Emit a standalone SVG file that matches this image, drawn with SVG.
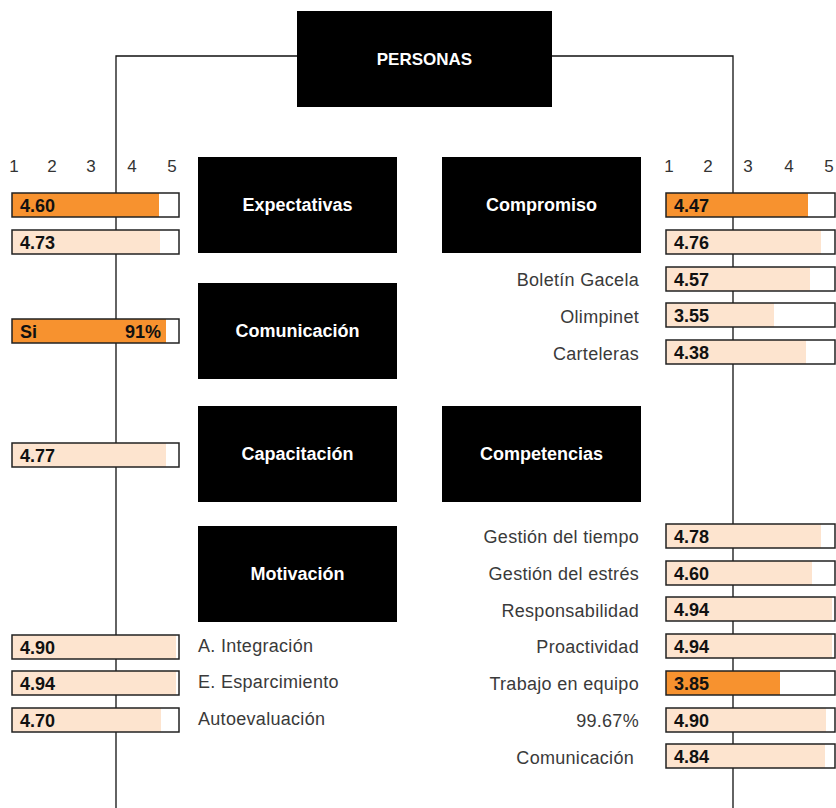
<svg xmlns="http://www.w3.org/2000/svg" width="836" height="808" viewBox="0 0 836 808">
  <style>
    .box { fill: #000; }
    .boxlabel { font-family: "Liberation Sans", Arial, sans-serif; font-weight: bold; font-size: 18px; fill: #fff; text-anchor: middle; }
    .root { font-size: 17px; }
    .axis { font-family: "Liberation Sans", Arial, sans-serif; font-size: 17px; fill: #333; text-anchor: middle; }
    .label { font-family: "Liberation Sans", Arial, sans-serif; font-size: 18px; letter-spacing: 0.3px; fill: #3a3a3a; }
    .label.r { text-anchor: end; }
    .val { font-family: "Liberation Sans", Arial, sans-serif; font-weight: bold; font-size: 18px; fill: #111; }
    .bg { fill: #fff; }
    .frame { fill: none; stroke: #222; stroke-width: 1.5; }
    .hi { fill: #f7922f; }
    .lo { fill: #fde4cf; }
    .line { fill: none; stroke: #111; stroke-width: 1.3; }
  </style>

  <!-- connectors: trunk from the root box down both sides -->
  <g id="connectors">
    <polyline class="line" points="116,808 116,56 733,56 733,808"/>
  </g>

  <!-- root node -->
  <g id="personas">
    <rect class="box" x="297" y="11" width="255" height="96"/>
    <text class="boxlabel root" x="424.5" y="65">PERSONAS</text>
  </g>

  <!-- category nodes -->
  <g id="expectativas">
    <rect class="box" x="198" y="157" width="199" height="96"/>
    <text class="boxlabel" x="297.5" y="211">Expectativas</text>
  </g>
  <g id="compromiso">
    <rect class="box" x="442" y="157" width="199" height="96"/>
    <text class="boxlabel" x="541.5" y="211">Compromiso</text>
  </g>
  <g id="comunicacion">
    <rect class="box" x="198" y="283" width="199" height="96"/>
    <text class="boxlabel" x="297.5" y="337">Comunicación</text>
  </g>
  <g id="capacitacion">
    <rect class="box" x="198" y="406" width="199" height="96"/>
    <text class="boxlabel" x="297.5" y="460">Capacitación</text>
  </g>
  <g id="competencias">
    <rect class="box" x="442" y="406" width="199" height="96"/>
    <text class="boxlabel" x="541.5" y="460">Competencias</text>
  </g>
  <g id="motivacion">
    <rect class="box" x="198" y="526" width="199" height="96"/>
    <text class="boxlabel" x="297.5" y="580">Motivación</text>
  </g>

  <!-- scale headings -->
  <g id="axis-left">
    <text class="axis" x="14" y="172">1</text>
    <text class="axis" x="52" y="172">2</text>
    <text class="axis" x="91" y="172">3</text>
    <text class="axis" x="132" y="172">4</text>
    <text class="axis" x="172" y="172">5</text>
  </g>
  <g id="axis-right">
    <text class="axis" x="669" y="172">1</text>
    <text class="axis" x="708" y="172">2</text>
    <text class="axis" x="748" y="172">3</text>
    <text class="axis" x="789" y="172">4</text>
    <text class="axis" x="829" y="172">5</text>
  </g>

  <!-- left score bars -->
  <g id="bars-left">
    <g id="bar-expectativas-1">
      <rect class="bg" x="12" y="193" width="167" height="24"/>
      <rect class="hi" x="12" y="193" width="147" height="24"/>
      <rect class="frame" x="12" y="193" width="167" height="24"/>
      <text class="val" x="20" y="212">4.60</text>
    </g>
    <g id="bar-expectativas-2">
      <rect class="bg" x="12" y="230" width="167" height="24"/>
      <rect class="lo" x="12" y="230" width="148" height="24"/>
      <rect class="frame" x="12" y="230" width="167" height="24"/>
      <text class="val" x="20" y="249">4.73</text>
    </g>
    <g id="bar-comunicacion">
      <rect class="bg" x="12" y="319" width="167" height="24"/>
      <rect class="hi" x="12" y="319" width="154" height="24"/>
      <rect class="frame" x="12" y="319" width="167" height="24"/>
      <text class="val" x="20" y="338">Si</text>
      <text class="val" x="161" y="338" text-anchor="end">91%</text>
    </g>
    <g id="bar-capacitacion">
      <rect class="bg" x="12" y="443" width="167" height="24"/>
      <rect class="lo" x="12" y="443" width="154" height="24"/>
      <rect class="frame" x="12" y="443" width="167" height="24"/>
      <text class="val" x="20" y="462">4.77</text>
    </g>
    <g id="bar-integracion">
      <rect class="bg" x="12" y="635" width="167" height="24"/>
      <rect class="lo" x="12" y="635" width="164" height="24"/>
      <rect class="frame" x="12" y="635" width="167" height="24"/>
      <text class="val" x="20" y="654">4.90</text>
    </g>
    <g id="bar-esparcimiento">
      <rect class="bg" x="12" y="671" width="167" height="24"/>
      <rect class="lo" x="12" y="671" width="164" height="24"/>
      <rect class="frame" x="12" y="671" width="167" height="24"/>
      <text class="val" x="20" y="690">4.94</text>
    </g>
    <g id="bar-autoevaluacion">
      <rect class="bg" x="12" y="708" width="167" height="24"/>
      <rect class="lo" x="12" y="708" width="149" height="24"/>
      <rect class="frame" x="12" y="708" width="167" height="24"/>
      <text class="val" x="20" y="727">4.70</text>
    </g>
  </g>

  <!-- right score bars -->
  <g id="bars-right">
    <g id="bar-compromiso-1">
      <rect class="bg" x="666" y="193" width="169" height="24"/>
      <rect class="hi" x="666" y="193" width="142" height="24"/>
      <rect class="frame" x="666" y="193" width="169" height="24"/>
      <text class="val" x="674" y="212">4.47</text>
    </g>
    <g id="bar-compromiso-2">
      <rect class="bg" x="666" y="230" width="169" height="24"/>
      <rect class="lo" x="666" y="230" width="155" height="24"/>
      <rect class="frame" x="666" y="230" width="169" height="24"/>
      <text class="val" x="674" y="249">4.76</text>
    </g>
    <g id="bar-boletin">
      <rect class="bg" x="666" y="267" width="169" height="24"/>
      <rect class="lo" x="666" y="267" width="144" height="24"/>
      <rect class="frame" x="666" y="267" width="169" height="24"/>
      <text class="val" x="674" y="286">4.57</text>
    </g>
    <g id="bar-olimpinet">
      <rect class="bg" x="666" y="303" width="169" height="24"/>
      <rect class="lo" x="666" y="303" width="108" height="24"/>
      <rect class="frame" x="666" y="303" width="169" height="24"/>
      <text class="val" x="674" y="322">3.55</text>
    </g>
    <g id="bar-carteleras">
      <rect class="bg" x="666" y="340" width="169" height="24"/>
      <rect class="lo" x="666" y="340" width="140" height="24"/>
      <rect class="frame" x="666" y="340" width="169" height="24"/>
      <text class="val" x="674" y="359">4.38</text>
    </g>
    <g id="bar-tiempo">
      <rect class="bg" x="666" y="524" width="169" height="24"/>
      <rect class="lo" x="666" y="524" width="155" height="24"/>
      <rect class="frame" x="666" y="524" width="169" height="24"/>
      <text class="val" x="674" y="543">4.78</text>
    </g>
    <g id="bar-estres">
      <rect class="bg" x="666" y="561" width="169" height="24"/>
      <rect class="lo" x="666" y="561" width="146" height="24"/>
      <rect class="frame" x="666" y="561" width="169" height="24"/>
      <text class="val" x="674" y="580">4.60</text>
    </g>
    <g id="bar-responsabilidad">
      <rect class="bg" x="666" y="597" width="169" height="24"/>
      <rect class="lo" x="666" y="597" width="166" height="24"/>
      <rect class="frame" x="666" y="597" width="169" height="24"/>
      <text class="val" x="674" y="616">4.94</text>
    </g>
    <g id="bar-proactividad">
      <rect class="bg" x="666" y="634" width="169" height="24"/>
      <rect class="lo" x="666" y="634" width="166" height="24"/>
      <rect class="frame" x="666" y="634" width="169" height="24"/>
      <text class="val" x="674" y="653">4.94</text>
    </g>
    <g id="bar-equipo">
      <rect class="bg" x="666" y="671" width="169" height="24"/>
      <rect class="hi" x="666" y="671" width="114" height="24"/>
      <rect class="frame" x="666" y="671" width="169" height="24"/>
      <text class="val" x="674" y="690">3.85</text>
    </g>
    <g id="bar-9967">
      <rect class="bg" x="666" y="708" width="169" height="24"/>
      <rect class="lo" x="666" y="708" width="160" height="24"/>
      <rect class="frame" x="666" y="708" width="169" height="24"/>
      <text class="val" x="674" y="727">4.90</text>
    </g>
    <g id="bar-comunicacion-comp">
      <rect class="bg" x="666" y="744" width="169" height="24"/>
      <rect class="lo" x="666" y="744" width="159" height="24"/>
      <rect class="frame" x="666" y="744" width="169" height="24"/>
      <text class="val" x="674" y="763">4.84</text>
    </g>
  </g>

  <!-- item labels -->
  <g id="labels-left">
    <text class="label" x="198" y="652">A. Integración</text>
    <text class="label" x="198" y="688">E. Esparcimiento</text>
    <text class="label" x="198" y="725">Autoevaluación</text>
  </g>
  <g id="labels-right">
    <text class="label r" x="639" y="286">Boletín Gacela</text>
    <text class="label r" x="639" y="323">Olimpinet</text>
    <text class="label r" x="639" y="360">Carteleras</text>
    <text class="label r" x="639" y="543">Gestión del tiempo</text>
    <text class="label r" x="639" y="580">Gestión del estrés</text>
    <text class="label r" x="639" y="617">Responsabilidad</text>
    <text class="label r" x="639" y="653">Proactividad</text>
    <text class="label r" x="639" y="690">Trabajo en equipo</text>
    <text class="label r" x="639" y="727">99.67%</text>
    <text class="label r" x="634" y="764">Comunicación</text>
  </g>
</svg>
